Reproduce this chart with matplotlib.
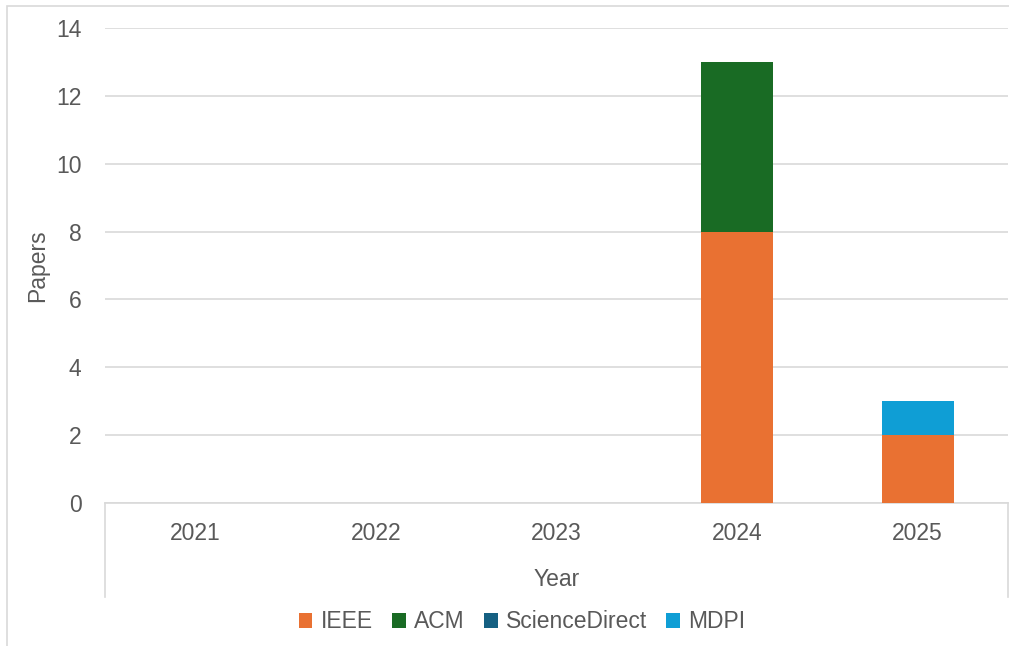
import numpy as np
import matplotlib.pyplot as plt
from matplotlib.lines import Line2D
from matplotlib.patches import Rectangle

# Data
years = ["2021", "2022", "2023", "2024", "2025"]
ieee = [0, 0, 0, 8, 2]
acm = [0, 0, 0, 5, 0]
sciencedirect = [0, 0, 0, 0, 0]
mdpi = [0, 0, 0, 0, 1]

series = [("IEEE", ieee, "#E97132"),
          ("ACM", acm, "#196B24"),
          ("ScienceDirect", sciencedirect, "#156082"),
          ("MDPI", mdpi, "#0F9ED5")]

plt.rcParams['font.family'] = ['Liberation Sans', 'DejaVu Sans']
text_col = "#595959"
grid_col = "#d9d9d9"
fs = 16.5

W, H = 1009, 646
fig = plt.figure(figsize=(W / 100, H / 100), dpi=100)
ax = fig.add_axes([105 / W, (H - 503) / H, (1008 - 105) / W, (503 - 28) / H])

x = np.arange(len(years))
bottom = np.zeros(len(years))
for name, vals, col in series:
    vals = np.array(vals, dtype=float)
    ax.bar(x, vals, width=0.4, bottom=bottom, color=col, label=name, zorder=3)
    bottom += vals

ax.set_xlim(-0.5, len(years) - 0.5)
ax.set_ylim(0, 14)
ax.set_yticks(np.arange(0, 15, 2))
ax.set_xticks(x)
ax.set_xticklabels(years)
ax.tick_params(axis='both', length=0, labelsize=fs, labelcolor=text_col)
ax.tick_params(axis='y', pad=17)
ax.tick_params(axis='x', pad=14)
ax.grid(axis='y', color=grid_col, linewidth=1.2, zorder=0)
for s in ['top', 'right', 'left']:
    ax.spines[s].set_visible(False)
ax.spines['bottom'].set_color(grid_col)
ax.spines['bottom'].set_linewidth(1.2)

ax.set_xlabel("Year", fontsize=fs, color=text_col)
ax.set_ylabel("Papers", fontsize=fs, color=text_col)
ax.xaxis.set_label_coords(0.5, -(580 - 503) / (503 - 28), transform=ax.transAxes)
ax.yaxis.set_label_coords((38 - 105) / (1008 - 105), 0.5)
ax.xaxis.label.set_va('center')
ax.yaxis.label.set_va('center')

# category boundary lines below the axis
for px in (105, 1008):
    fig.add_artist(Line2D([px / W, px / W], [(H - 503) / H, (H - 597) / H],
                          color=grid_col, linewidth=1.2))

# outer chart border
fig.add_artist(Rectangle((7 / W, -0.05), 1.1, (H - 6) / H + 0.05,
                         transform=fig.transFigure, fill=False,
                         edgecolor=grid_col, linewidth=1.2))

fig.legend(loc='center', bbox_to_anchor=(522 / W, (H - 622) / H), ncol=4,
           frameon=False, fontsize=fs, labelcolor=text_col,
           handlelength=0.6, handleheight=0.6, handletextpad=0.35,
           columnspacing=0.85)

fig.savefig("out.png", dpi=100, facecolor='white')
